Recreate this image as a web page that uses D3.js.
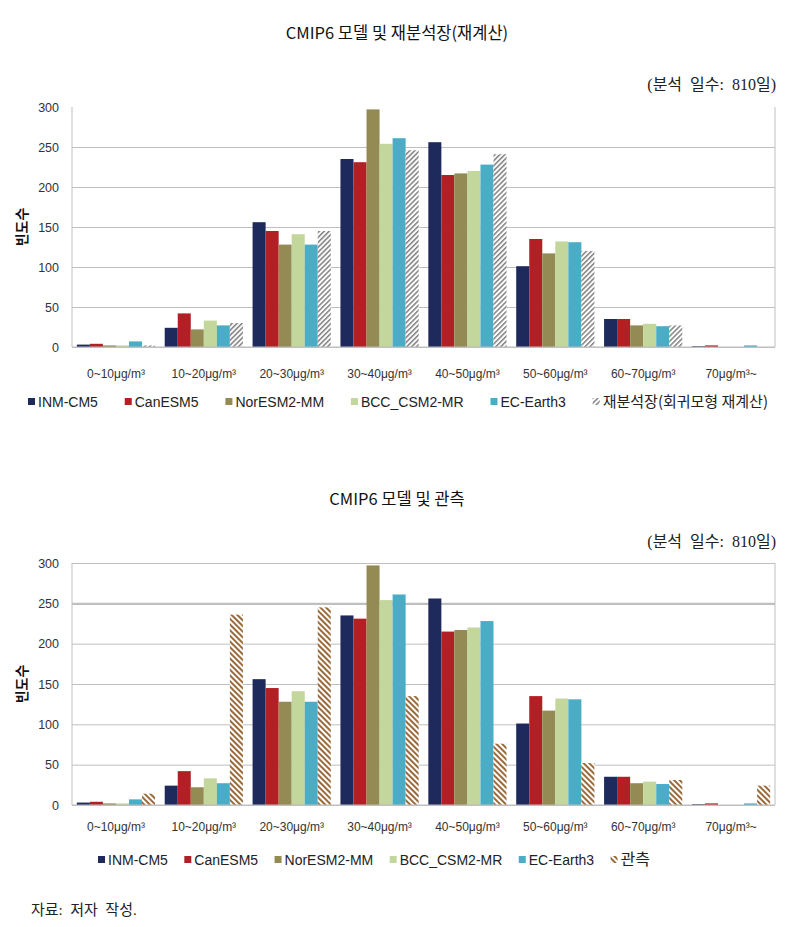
<!DOCTYPE html>
<html><head><meta charset="utf-8">
<script src="https://cdn.jsdelivr.net/npm/d3@7"></script>
<style>
body{margin:0;background:#fff;}
svg{display:block;}
.sans{font-family:"Liberation Sans","Noto Sans CJK KR",sans-serif;}
.kr{font-family:"Noto Sans CJK KR","Liberation Sans",sans-serif;}
.serif{font-family:"Liberation Serif","Noto Sans CJK KR",serif;}
</style></head>
<body>
<script>
const categories = ["0~10μg/m³","10~20μg/m³","20~30μg/m³","30~40μg/m³","40~50μg/m³","50~60μg/m³","60~70μg/m³","70μg/m³~"];
const models = ["INM-CM5","CanESM5","NorESM2-MM","BCC_CSM2-MR","EC-Earth3"];
const modelColors = ["#1F2A5C","#B22025","#948A54","#C3D69B","#4BACC6"];
const inmcm5 = [3,24,156,235,256,101,35,1];
const canesm5 = [4,42,145,231,215,135,35,2];
const noresm2 = [2,22,128,297,217,117,27,0];
const bcc = [2,33,141,254,220,132,29,0];
const ecearth3 = [7,27,128,261,228,131,26,2];
const reanalysis = [2,30,145,246,241,120,27,0];
const observed = [14,236,245,135,76,52,31,24];
const yTicks = [0,50,100,150,200,250,300];
const modelValues = [inmcm5,canesm5,noresm2,bcc,ecearth3];

const svg = d3.select("body").append("svg").attr("width",802).attr("height",927);
const defs = svg.append("defs");
const p1 = defs.append("pattern").attr("id","hatchRe").attr("patternUnits","userSpaceOnUse")
  .attr("width",3.5).attr("height",3.5).attr("patternTransform","rotate(45)");
p1.append("rect").attr("width",3.5).attr("height",3.5).attr("fill","#fff");
p1.append("rect").attr("width",1.5).attr("height",3.5).attr("fill","#808080");
const p2 = defs.append("pattern").attr("id","hatchObs").attr("patternUnits","userSpaceOnUse")
  .attr("width",4).attr("height",4).attr("patternTransform","rotate(-45)");
p2.append("rect").attr("width",4).attr("height",4).attr("fill","#fff");
p2.append("rect").attr("width",2).attr("height",4).attr("fill","#9A6A3A");

function drawChart(opt){
  const g = svg.append("g");
  const x = d3.scaleBand().domain(categories).range([72,775]).paddingInner(0.11).paddingOuter(0.055);
  const y = d3.scaleLinear().domain([0,300]).range([opt.y0,opt.y300]);
  const seriesNames = models.concat([opt.extraName]);
  const xs = d3.scaleBand().domain(seriesNames).range([0,x.bandwidth()]);
  g.append("text").attr("class","kr").attr("x",397).attr("y",opt.titleY).attr("text-anchor","middle")
    .attr("font-size",16.5).attr("fill","#111").text(opt.title);
  g.append("text").attr("class","serif").attr("x",776).attr("y",opt.noteY).attr("text-anchor","end")
    .attr("font-size",16).attr("fill","#222").attr("xml:space","preserve").text("(분석  일수:  810일)");
  const yAxis = d3.axisLeft(y).tickValues(yTicks).tickSize(-(775-72)).tickFormat(d3.format("d"));
  const ga = g.append("g").attr("transform","translate(72,0)").call(yAxis);
  ga.select(".domain").remove();
  ga.selectAll(".tick line").attr("stroke","#BFBFBF")
    .attr("display",d=> (d===300 && !opt.topBorder) ? "none":null)
    .attr("stroke-width",d=> (d===250 && opt.thick250) ? 2.2 : 1);
  ga.selectAll(".tick text").attr("class","sans").attr("x",-13).attr("font-size",12.5).attr("fill","#333");
  g.append("line").attr("x1",72).attr("x2",72).attr("y1",opt.y300).attr("y2",opt.y0).attr("stroke","#BFBFBF");
  g.append("line").attr("x1",775).attr("x2",775).attr("y1",opt.y300).attr("y2",opt.y0).attr("stroke","#BFBFBF");
  g.append("text").attr("class","kr").attr("transform",`translate(27,${(opt.y0+opt.y300)/2}) rotate(-90)`)
    .attr("text-anchor","middle").attr("font-size",14).attr("font-weight","bold").attr("fill","#111").text("빈도수");
  const allVals = modelValues.concat([opt.extra]);
  const fills = modelColors.concat([opt.extraFill]);
  seriesNames.forEach((s,si)=>{
    g.append("g").selectAll("rect").data(categories).join("rect")
      .attr("x",(c)=>x(c)+xs(s))
      .attr("y",(c,i)=>y(allVals[si][i]))
      .attr("width",xs.bandwidth())
      .attr("height",(c,i)=>opt.y0-y(allVals[si][i]))
      .attr("fill",fills[si]);
  });
  g.append("line").attr("x1",72).attr("x2",775).attr("y1",opt.y0).attr("y2",opt.y0).attr("stroke","#BFBFBF");
  g.append("g").selectAll("text").data(categories).join("text").attr("class","sans")
    .attr("x",c=>x(c)+x.bandwidth()/2).attr("y",opt.catY).attr("text-anchor","middle")
    .attr("font-size",12).attr("fill","#333").text(c=>c);
  const lg = g.append("g");
  const items = seriesNames.map((s,i)=>{
    const t = lg.append("text").attr("class",i<5?"sans":"kr").attr("y",opt.legY+5)
      .attr("font-size",i<5?14:opt.krSize).attr("fill","#222").text(s);
    return {t, w:t.node().getComputedTextLength()};
  });
  const total = d3.sum(items,d=>d.w+10);
  const gap = (opt.legEnd-opt.legStart-total)/(items.length-1);
  let cx = opt.legStart;
  items.forEach((it,i)=>{
    lg.append("rect").attr("x",cx).attr("y",opt.legY-4).attr("width",7).attr("height",7).attr("fill",fills[i]);
    it.t.attr("x",cx+10);
    cx += 10+it.w+gap;
  });
}

drawChart({title:"CMIP6 모델 및 재분석장(재계산)",titleY:39,noteY:90,y0:347,y300:107,topBorder:false,thick250:false,
  extra:reanalysis,extraName:"재분석장(회귀모형 재계산)",extraFill:"url(#hatchRe)",catY:378,legY:402,
  legStart:28,legEnd:768,krSize:15});
drawChart({title:"CMIP6 모델 및 관측",titleY:505,noteY:547,y0:805,y300:563,topBorder:true,thick250:true,
  extra:observed,extraName:"관측",extraFill:"url(#hatchObs)",catY:831,legY:860,
  legStart:98,legEnd:650,krSize:16});

svg.append("text").attr("class","serif").attr("x",31).attr("y",915).attr("font-size",15).attr("fill","#222")
  .attr("xml:space","preserve").text("자료:  저자  작성.");
</script>
</body></html>
